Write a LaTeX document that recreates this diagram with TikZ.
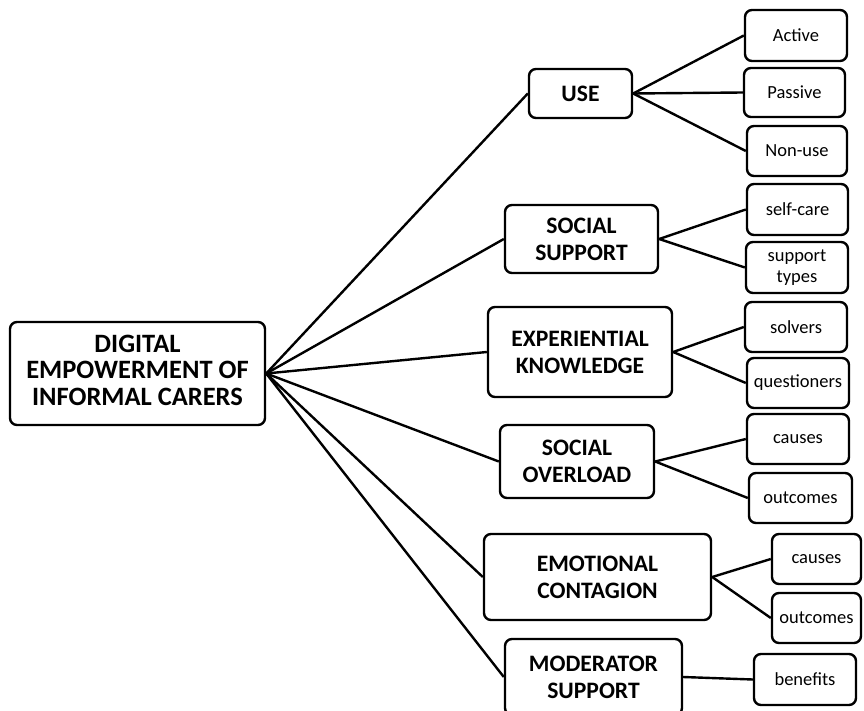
\documentclass[tikz,border=0pt]{standalone}
\usepackage{fontspec}
\setmainfont{Carlito}
\begin{document}
\begin{tikzpicture}[x=1pt,y=-1pt,
  box/.style={draw=black,line width=2.4pt,rounded corners=7pt,inner sep=0pt,align=center},
  lvone/.style={box,font=\fontsize{26.5}{26.5}\selectfont\bfseries},
  lvtwo/.style={box,font=\fontsize{23.6}{27}\selectfont\bfseries},
  lvthree/.style={box,font=\fontsize{18.5}{21}\selectfont},
  link/.style={line width=2.4pt}]
\clip (0,0) rectangle (864,711);
\fill[white] (0,0) rectangle (864,711);
\node[lvone,minimum width=255pt,minimum height=103pt,text depth=7pt] (main) at (137.5,373.5) {DIGITAL\\EMPOWERMENT OF\\INFORMAL CARERS};
\node[lvtwo,minimum width=103pt,minimum height=49pt] (use) at (580.5,93.5) {USE};
\node[lvtwo,minimum width=153pt,minimum height=68pt] (ss) at (581.5,239) {SOCIAL\\SUPPORT};
\node[lvtwo,minimum width=184pt,minimum height=90pt] (ek) at (580,352) {EXPERIENTIAL\\KNOWLEDGE};
\node[lvtwo,minimum width=154pt,minimum height=73pt] (so) at (577,461.5) {SOCIAL\\OVERLOAD};
\node[lvtwo,minimum width=227pt,minimum height=86pt] (ec) at (597.5,577) {EMOTIONAL\\CONTAGION};
\node[lvtwo,minimum width=177pt,minimum height=76pt] (ms) at (593.5,677) {MODERATOR\\SUPPORT};
\node[lvthree,minimum width=102pt,minimum height=51pt] (active) at (796,35.5) {Active};
\node[lvthree,minimum width=101pt,minimum height=49pt] (passive) at (794.5,92.5) {Passive};
\node[lvthree,minimum width=100pt,minimum height=50pt] (nonuse) at (797,151) {Non-use};
\node[lvthree,minimum width=101pt,minimum height=51pt] (selfcare) at (797.5,209.5) {self-care};
\node[lvthree,minimum width=102pt,minimum height=51pt] (stypes) at (797,267.5) {support\\types};
\node[lvthree,minimum width=102pt,minimum height=50pt] (solvers) at (796,327) {solvers};
\node[lvthree,minimum width=102pt,minimum height=50pt] (quest) at (798,383) {questioners};
\node[lvthree,minimum width=102pt,minimum height=50pt] (causesa) at (798,439) {causes};
\node[lvthree,minimum width=103pt,minimum height=50pt] (outa) at (800.5,498) {outcomes};
\node[lvthree,minimum width=89pt,minimum height=50pt] (causesb) at (816.5,559) {causes};
\node[lvthree,minimum width=89pt,minimum height=50pt] (outb) at (816.5,618) {outcomes};
\node[lvthree,minimum width=102pt,minimum height=51pt] (benefits) at (805,679.5) {benefits};
\foreach \c in {use,ss,ek,so,ec,ms} \draw[link] (main.east) -- (\c.west);
\foreach \c in {active,passive,nonuse} \draw[link] (use.east) -- (\c.west);
\foreach \c in {selfcare,stypes} \draw[link] (ss.east) -- (\c.west);
\foreach \c in {solvers,quest} \draw[link] (ek.east) -- (\c.west);
\foreach \c in {causesa,outa} \draw[link] (so.east) -- (\c.west);
\foreach \c in {causesb,outb} \draw[link] (ec.east) -- (\c.west);
\draw[link] (ms.east) -- (benefits.west);
\end{tikzpicture}
\end{document}
